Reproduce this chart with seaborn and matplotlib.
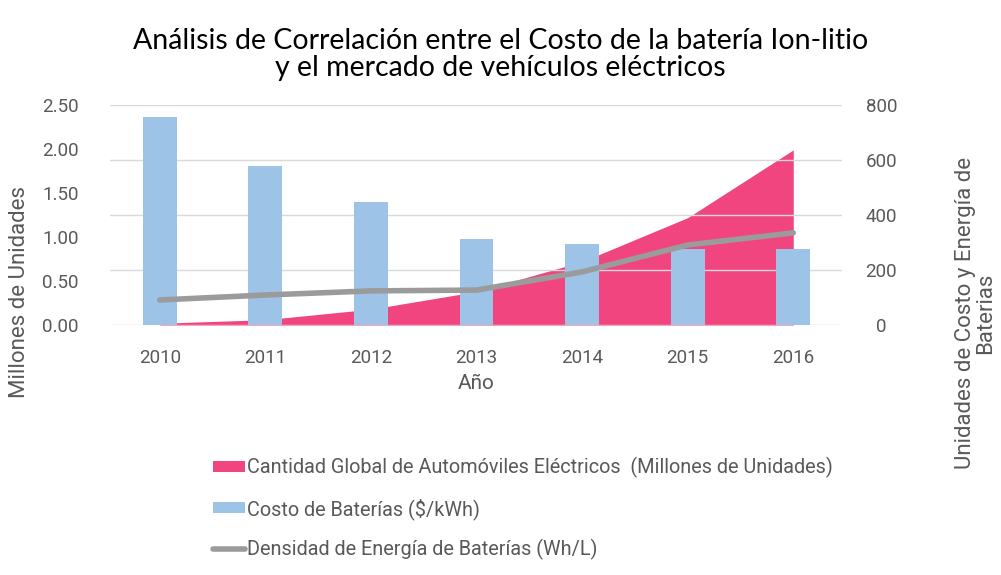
import numpy as np
import pandas as pd
import matplotlib
matplotlib.use("Agg")
import matplotlib.pyplot as plt
import seaborn as sns
from matplotlib.patches import Patch
from matplotlib.lines import Line2D
from matplotlib import font_manager

years = ["2010", "2011", "2012", "2013", "2014", "2015", "2016"]
ev_stock = [0.02, 0.06, 0.18, 0.38, 0.72, 1.22, 1.99]
battery_cost = [756, 578, 447, 313, 295, 276, 276]
energy_density = [91, 109, 124, 127, 193, 291, 335]

left_ticks = [0.0, 0.5, 1.0, 1.5, 2.0, 2.5]
right_ticks = [0, 200, 400, 600, 800]

title = "Análisis de Correlación entre el Costo de la batería Ion-litio\ny el mercado de vehículos eléctricos"
lbl_area = "Cantidad Global de Automóviles Eléctricos  (Millones de Unidades)"
lbl_bar = "Costo de Baterías ($/kWh)"
lbl_line = "Densidad de Energía de Baterías (Wh/L)"

pink = "#F0457F"
blue = "#9DC3E6"
grey_line = "#9B9B9B"
txt = "#595959"

sns.set_theme(style="white")
names = {f.name for f in font_manager.fontManager.ttflist}
if "Liberation Sans Narrow" in names:
    body = "Liberation Sans Narrow"
    fs_tick, fs_leg, fs_lab = 16, 17, 19
else:
    body = "Roboto"
    fs_tick, fs_leg, fs_lab = 13.5, 14.3, 16
plt.rcParams["font.family"] = [body, "DejaVu Sans"]

df = pd.DataFrame({"year": years, "idx": np.arange(len(years)),
                   "ev": ev_stock, "cost": battery_cost, "dens": energy_density})

fig = plt.figure(figsize=(10.01, 5.75), dpi=100)
ax1 = fig.add_axes([0.110, 0.4348, 0.731, 0.3826])
ax2 = ax1.twinx()

# area on left axis
ax1.fill_between(df["idx"], 0, df["ev"], color=pink, linewidth=0, zorder=1)
ax1.set_ylim(0, 2.5)
ax1.set_yticks(left_ticks)
ax1.set_yticklabels([f"{v:.2f}" for v in left_ticks])

# bars and line on right axis
sns.barplot(data=df, x="idx", y="cost", color=blue, width=0.32, ax=ax2,
            saturation=1, native_scale=True, linewidth=0, zorder=2)
sns.lineplot(data=df, x="idx", y="dens", color=grey_line, linewidth=4, ax=ax2, zorder=3)
ax2.set_ylim(0, 800)
ax2.set_yticks(right_ticks)
ax2.set_yticklabels([str(v) for v in right_ticks])
ax2.grid(axis="y", color="#D9D9D9", linewidth=1)
ax2.set_axisbelow(True)
ax2.set_xlabel("")
ax2.set_ylabel("")

ax1.set_xlim(-0.47, 6.46)
ax1.set_xticks(np.arange(len(years)))
ax1.set_xticklabels(years)
ax1.set_xlabel("Año", fontsize=15, color=txt, labelpad=5)
ax1.set_ylabel("")

for ax in (ax1, ax2):
    for s in ax.spines.values():
        s.set_visible(False)
ax1.tick_params(axis="x", length=0, pad=17, labelsize=fs_tick, labelcolor=txt)
ax1.tick_params(axis="y", length=0, pad=22.5, labelsize=fs_tick, labelcolor=txt)
ax2.tick_params(axis="y", length=0, pad=28.5, labelsize=fs_tick, labelcolor=txt)
ax2.tick_params(axis="x", length=0)
for t in ax2.get_yticklabels():
    t.set_horizontalalignment("center")

fig.text(0.5, 0.905, title, ha="center", va="center", fontsize=20.5,
         family=["Lato", "DejaVu Sans"], color="black", linespacing=1.05)
fig.text(0.019, 0.492, "Millones de Unidades", rotation=90, ha="center", va="center",
         fontsize=fs_lab, color=txt)
fig.text(0.975, 0.455, "Unidades de Costo y Energía de\nBaterias", rotation=90,
         ha="center", va="center", fontsize=fs_lab, color=txt, multialignment="center",
         linespacing=0.95)

handles = [Patch(facecolor=pink, edgecolor="none"),
           Patch(facecolor=blue, edgecolor="none"),
           Line2D([0], [0], color=grey_line, linewidth=4)]
fig.legend(handles, [lbl_area, lbl_bar, lbl_line], loc="upper left",
           bbox_to_anchor=(0.213, 0.205), frameon=False, fontsize=fs_leg,
           labelcolor=txt, handlelength=1.6, handleheight=0.45, handletextpad=0.1,
           labelspacing=0.99, borderaxespad=0, borderpad=0)

fig.savefig("out.png", dpi=100)
